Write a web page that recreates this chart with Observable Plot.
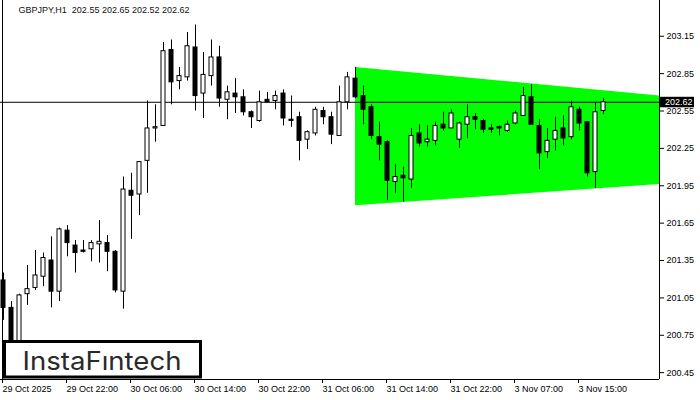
<!DOCTYPE html>
<html>
<head>
<meta charset="utf-8">
<script src="https://cdn.jsdelivr.net/npm/d3@7"></script>
<script src="https://cdn.jsdelivr.net/npm/@observablehq/plot@0.6"></script>
<style>
  html, body { margin: 0; padding: 0; background: #ffffff; }
  #chart { width: 700px; height: 400px; }
</style>
</head>
<body>
<div id="chart"></div>
<script>
// GBPJPY H1 candles (index 0 = 29 Oct 2025 14:00)
const opens  = [201.19,200.97,200.68,201.08,201.13,201.22,201.35,201.10,201.59,201.47,
                201.43,201.44,201.48,201.49,201.42,201.10,201.91,201.88,202.15,202.41,
                202.43,203.04,202.79,202.82,203.06,202.69,202.83,202.98,202.64,202.69,
                202.66,202.54,202.47,202.64,202.63,202.69,202.48,202.50,202.32,202.37,
                202.55,202.50,202.35,202.62,202.81,202.67,202.58,202.34,202.30,201.98,
                202.03,202.00,202.37,202.30,202.31,202.44,202.41,202.32,202.44,202.50,
                202.47,202.41,202.42,202.39,202.45,202.51,202.66,202.43,202.22,202.32,
                202.41,202.34,202.56,202.46,202.06,202.55];
const highs  = [201.25,201.02,201.08,201.31,201.43,201.41,201.54,201.61,201.63,201.51,
                201.51,201.51,201.67,201.55,201.43,202.02,202.05,202.14,202.63,202.60,
                203.10,203.12,202.90,203.18,203.24,203.02,203.12,203.07,202.75,202.81,
                202.72,202.55,202.71,202.70,202.71,202.72,202.67,202.54,202.39,202.58,
                202.58,202.54,202.75,202.86,202.90,202.75,202.60,202.46,202.31,202.12,
                202.10,202.41,202.44,202.43,202.46,202.54,202.56,202.46,202.60,202.53,
                202.48,202.44,202.43,202.47,202.55,202.74,202.76,202.48,202.41,202.50,
                202.51,202.63,202.58,202.46,202.62,202.65];
const lows   = [200.87,200.60,200.66,200.99,201.11,201.14,200.97,201.02,201.38,201.25,
                201.41,201.34,201.33,201.26,201.09,200.96,201.52,201.71,201.89,202.30,
                202.43,202.60,202.72,202.79,202.55,202.49,202.75,202.58,202.48,202.53,
                202.51,202.41,202.46,202.62,202.56,202.43,202.42,202.15,202.24,202.35,
                202.44,202.28,202.35,202.56,202.65,202.44,202.32,202.15,201.83,201.89,
                201.82,201.93,202.26,202.26,202.27,202.39,202.41,202.25,202.33,202.40,
                202.37,202.37,202.35,202.38,202.44,202.51,202.44,202.08,202.17,202.23,
                202.27,202.32,202.39,202.02,201.93,202.52];
const closes = [200.97,200.68,201.07,201.12,201.23,201.37,201.10,201.60,201.49,201.41,
                201.42,201.49,201.50,201.42,201.11,201.92,201.87,202.14,202.41,202.42,
                203.03,202.78,202.83,203.07,202.67,202.84,202.98,202.65,202.70,202.66,
                202.54,202.50,202.62,202.62,202.67,202.49,202.47,202.31,202.38,202.56,
                202.50,202.36,202.62,202.82,202.66,202.56,202.35,202.28,201.99,202.02,
                202.01,202.35,202.29,202.32,202.43,202.41,202.53,202.45,202.50,202.48,
                202.40,202.40,202.41,202.44,202.53,202.67,202.44,202.21,202.31,202.39,
                202.33,202.58,202.45,202.05,202.54,202.62];

// Symmetrical triangle pattern (bar index, upper and lower bound)
const triBars   = [44, 82];
const triUpper  = [202.90, 202.67];
const triLower  = [201.79, 201.96];

// Axis ticks
const yTicks = [203.15, 202.85, 202.55, 202.25, 201.95, 201.65, 201.35, 201.05, 200.75, 200.45];
const xTickBars = [0, 8, 16, 24, 32, 40, 48, 56, 64, 72];
const xTickLabels = ["29 Oct 2025", "29 Oct 22:00", "30 Oct 06:00", "30 Oct 14:00", "30 Oct 22:00",
                     "31 Oct 06:00", "31 Oct 14:00", "31 Oct 22:00", "3 Nov 07:00", "3 Nov 15:00"];

const symbol = "GBPJPY,H1";
const logoText = "InstaF\u0131ntech";

// ---- build tables ----
const candles = opens.map((o, i) => ({i, open: o, high: highs[i], low: lows[i], close: closes[i]}));
const up = candles.filter(d => d.close >= d.open);
const down = candles.filter(d => d.close < d.open);
const tri = triBars.map((x, k) => ({x, top: triUpper[k], bot: triLower[k]}));
const last = candles[candles.length - 1];
const fmt = v => v.toFixed(2);
const title = symbol + "\u00a0\u00a0" + [last.open, last.high, last.low, last.close].map(fmt).join(" ");

const xDomain = [-0.375, 82];
const yDomain = [200.395, 203.437];
const font = "'Liberation Sans', Arial, sans-serif";

const plot = Plot.plot({
  width: 700,
  height: 400,
  marginLeft: 0,
  marginRight: 41,
  marginTop: 0,
  marginBottom: 21,
  style: {fontFamily: font, fontSize: "9px", background: "white", color: "black", overflow: "visible"},
  x: {type: "linear", domain: xDomain},
  y: {type: "linear", domain: yDomain},
  marks: [
    Plot.areaY(tri, {x: "x", y1: "bot", y2: "top", fill: "#00ff00", curve: "linear"}),
    Plot.ruleY([last.close], {stroke: "black", strokeWidth: 1}),
    Plot.ruleX(candles, {x: "i", y1: "low", y2: "high", stroke: "black", strokeWidth: 1}),
    Plot.rect(down, {x1: d => d.i - 0.25, x2: d => d.i + 0.25, y1: "open", y2: "close", fill: "black", stroke: "black", strokeWidth: 1}),
    Plot.rect(up, {x1: d => d.i - 0.25, x2: d => d.i + 0.25, y1: "open", y2: "close", fill: "white", stroke: "black", strokeWidth: 1}),
    Plot.ruleX([xDomain[1]], {stroke: "black"}),
    Plot.ruleX([xDomain[0] + 0.25], {stroke: "black"}),
    Plot.ruleY([yDomain[0]], {stroke: "black"}),
    Plot.axisY({anchor: "right", ticks: yTicks, tickFormat: fmt, tickSize: 4, tickPadding: 3, fontSize: 9, label: null}),
    Plot.axisX({anchor: "bottom", ticks: xTickBars, tickFormat: d => xTickLabels[xTickBars.indexOf(d)],
                tickSize: 4, tickPadding: 2, textAnchor: "start", dx: -1, fontSize: 9, label: null}),
    Plot.text([title], {frameAnchor: "top-left", dx: 18, dy: 6, textAnchor: "start", lineAnchor: "top", fontSize: 9, fill: "#111"})
  ]
});

document.getElementById("chart").appendChild(plot);

// current price tag on the right axis
const svg = d3.select(plot);
const yPix = plot.scale("y").apply(last.close);
const tag = svg.append("g");
tag.append("rect").attr("x", 660).attr("y", yPix - 5).attr("width", 34).attr("height", 10.5).attr("fill", "black");
tag.append("text").attr("x", 665).attr("y", yPix).attr("dy", "0.34em").attr("text-anchor", "start")
  .attr("fill", "white").attr("font-family", font).attr("font-size", 9).text(fmt(last.close));

// logo box
const logo = svg.append("g");
logo.append("rect").attr("x", 4.5).attr("y", 341.5).attr("width", 196).attr("height", 35.5)
  .attr("fill", "white").attr("stroke", "black").attr("stroke-width", 3);
logo.append("text").attr("x", 22.5).attr("y", 369.5).attr("text-anchor", "start")
  .attr("font-family", "Inter, 'Noto Sans', sans-serif").attr("font-weight", 400).attr("font-size", 25.5)
  .attr("fill", "#2a2a2a").attr("textLength", 159).attr("lengthAdjust", "spacingAndGlyphs").text(logoText);
</script>
</body>
</html>
